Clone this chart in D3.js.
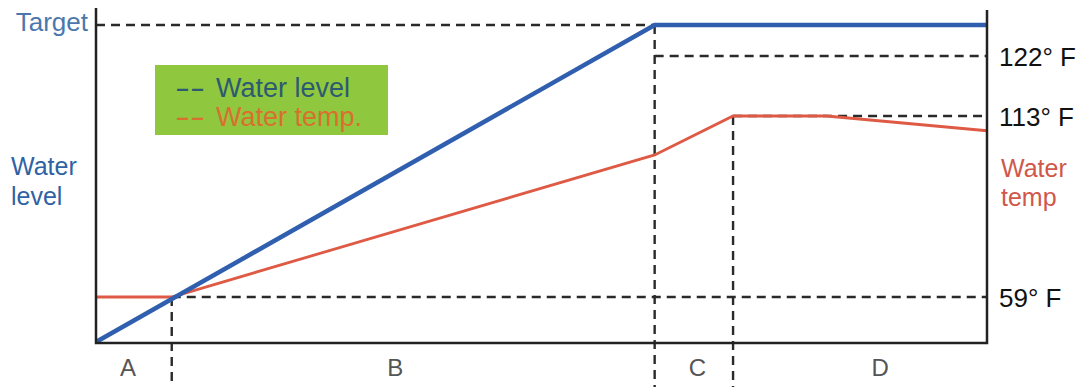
<!DOCTYPE html>
<html>
<head>
<meta charset="utf-8">
<script src="https://cdn.jsdelivr.net/npm/d3@7"></script>
<style>
  body { margin: 0; background: #fff; }
  svg text { font-family: "Liberation Sans", Arial, sans-serif; }
</style>
</head>
<body>
<svg id="chart" width="1084" height="387"></svg>
<script>
// phases, in time units from 0 to 100
var phases = ['A', 'B', 'C', 'D'];
var phaseEnds = [0, 8.5, 62.7, 71.5, 100];
var phaseLabelAt = [3.6, 33.6, 67.5, 88];

// water level, % of target
var levelTime = [0, 62.7, 100];
var levelValue = [0, 100, 100];

// water temperature, deg F
var tempTime = [0, 8.5, 62.7, 71.5, 82, 100];
var tempValue = [59, 59, 101.4, 113, 113, 108.6];

var tempTicks = [59, 113, 122];
var tempTickLabels = ['59° F', '113° F', '122° F'];

var legendLabels = ['Water level', 'Water temp.'];

var svg = d3.select('#chart');

var x = d3.scaleLinear().domain([0, 100]).range([96, 987]);
var yLevel = d3.scaleLinear().domain([0, 100]).range([342, 25]);
// temperature axis of the original drawing is not to scale
var yTemp = d3.scaleLinear().domain([59, 113, 122]).range([297, 116, 56]);

var blue = '#2f5fae',
  red = '#de5a44',
  dash = '#2a2a2a';

// Dashed guides -------------------- //
var guides = svg.append('g')
  .attr('stroke', dash)
  .attr('stroke-width', 2.4)
  .attr('stroke-dasharray', '9,6')
  .attr('fill', 'none');

// target line
guides.append('line')
  .attr('x1', x(0)).attr('x2', x(levelTime[1]))
  .attr('y1', yLevel(100)).attr('y2', yLevel(100));

// temperature guides
guides.append('line')
  .attr('x1', x(phaseEnds[1])).attr('x2', x(100))
  .attr('y1', yTemp(59)).attr('y2', yTemp(59));
guides.append('line')
  .attr('x1', x(phaseEnds[3])).attr('x2', x(100))
  .attr('y1', yTemp(113)).attr('y2', yTemp(113));
guides.append('line')
  .attr('x1', x(phaseEnds[2])).attr('x2', x(100))
  .attr('y1', yTemp(122)).attr('y2', yTemp(122));

// phase boundaries
var boundTop = [yTemp(59), yLevel(100), yTemp(113)];
guides.selectAll('line.bound')
  .data(phaseEnds.slice(1, 4))
  .enter()
  .append('line')
  .attr('class', 'bound')
  .attr('x1', function (d) { return x(d); })
  .attr('x2', function (d) { return x(d); })
  .attr('y1', function (d, i) { return boundTop[i]; })
  .attr('y2', 387);

// Legend ----------------------- //
svg.append('rect')
  .attr('x', 155).attr('y', 65)
  .attr('width', 233).attr('height', 70)
  .attr('fill', '#8fc73e');

var legendColor = ['#2d5a70', '#d8702e'];

var legend = svg.selectAll('g.legend')
  .data(legendLabels)
  .enter()
  .append('g')
  .attr('class', 'legend')
  .attr('transform', function (d, i) { return 'translate(0,' + (97 + i * 29) + ')'; })
  .attr('fill', function (d, i) { return legendColor[i]; })
  .style('font-size', '27px');

legend.append('text')
  .attr('x', 175)
  .attr('textLength', 30)
  .attr('lengthAdjust', 'spacingAndGlyphs')
  .text('--');
legend.append('text')
  .attr('x', 216)
  .text(function (d) { return d; });

// Lines -------------------- //
var line = d3.line()
  .x(function (d) { return x(d[0]); })
  .y(function (d) { return d[1]; });

svg.append('path')
  .datum(tempTime.map(function (t, i) { return [t, yTemp(tempValue[i])]; }))
  .attr('d', line)
  .attr('fill', 'none')
  .attr('stroke', red)
  .attr('stroke-width', 2.8);

svg.append('path')
  .datum(levelTime.map(function (t, i) { return [t, yLevel(levelValue[i])]; }))
  .attr('d', line)
  .attr('fill', 'none')
  .attr('stroke', blue)
  .attr('stroke-width', 4.5);

// Axes frame -------------------- //
svg.append('path')
  .attr('d', 'M' + x(0) + ',8V' + (yLevel(0) + 1) + 'H' + x(100) + 'V10')
  .attr('fill', 'none')
  .attr('stroke', '#222')
  .attr('stroke-width', 2.5);

// Labels ----------------------- //
svg.append('text')
  .attr('x', 88).attr('y', yLevel(100))
  .attr('dy', '0.22em')
  .attr('text-anchor', 'end')
  .attr('fill', '#4a78ad')
  .style('font-size', '26px')
  .text('Target');

svg.append('text')
  .attr('fill', '#2f62a3')
  .style('font-size', '25px')
  .selectAll('tspan')
  .data(['Water', 'level'])
  .enter()
  .append('tspan')
  .attr('x', 11)
  .attr('y', function (d, i) { return 175 + i * 30; })
  .text(function (d) { return d; });

svg.append('text')
  .attr('fill', '#d0574a')
  .style('font-size', '25px')
  .selectAll('tspan')
  .data(['Water', 'temp'])
  .enter()
  .append('tspan')
  .attr('x', 1001)
  .attr('y', function (d, i) { return 177 + i * 29; })
  .text(function (d) { return d; });

svg.selectAll('text.temp')
  .data(tempTicks)
  .enter()
  .append('text')
  .attr('class', 'temp')
  .attr('x', 999)
  .attr('y', function (d) { return yTemp(d); })
  .attr('dy', '0.38em')
  .attr('fill', '#111')
  .style('font-size', '26px')
  .text(function (d, i) { return tempTickLabels[i]; });

svg.selectAll('text.phase')
  .data(phases)
  .enter()
  .append('text')
  .attr('class', 'phase')
  .attr('x', function (d, i) { return x(phaseLabelAt[i]); })
  .attr('y', 368)
  .attr('dy', '0.35em')
  .attr('text-anchor', 'middle')
  .attr('fill', '#555')
  .style('font-size', '24px')
  .text(function (d) { return d; });
</script>
</body>
</html>
